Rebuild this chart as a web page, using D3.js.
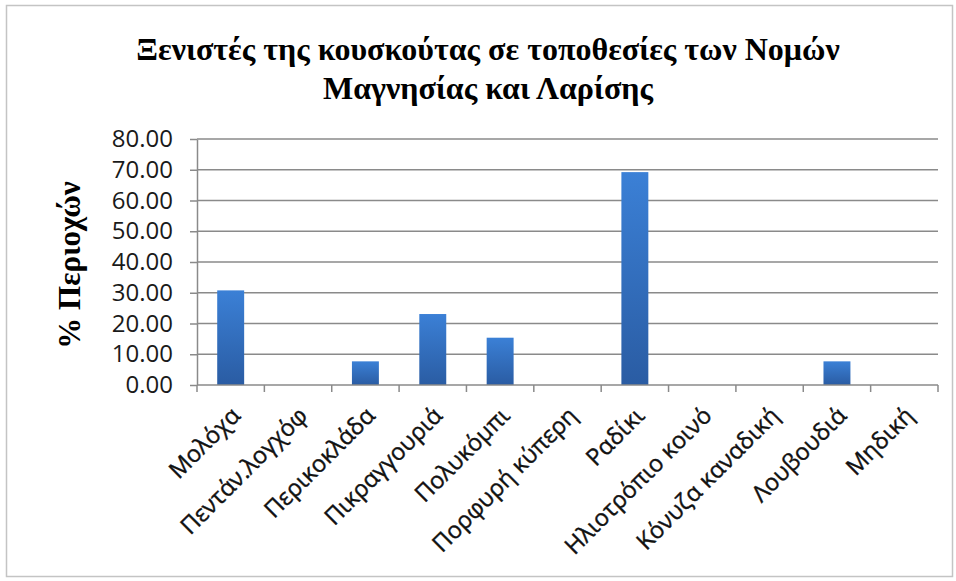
<!DOCTYPE html>
<html>
<head>
<meta charset="utf-8">
<script src="https://cdn.jsdelivr.net/npm/d3@7"></script>
<style>
  body { margin: 0; background: #fff; }
  svg { display: block; }
</style>
</head>
<body>
<svg width="956" height="581"></svg>
<script>
const categories = ['Μολόχα', 'Πεντάν.λογχόφ', 'Περικοκλάδα', 'Πικραγγουριά', 'Πολυκόμπι',
  'Πορφυρή κύπερη', 'Ραδίκι', 'Ηλιοτρόπιο κοινό', 'Κόνυζα καναδική', 'Λουβουδιά', 'Μηδική'];
const values = [30.77, 0, 7.69, 23.08, 15.38, 0, 69.23, 0, 0, 7.69, 0];
const yTicks = [0, 10, 20, 30, 40, 50, 60, 70, 80];
const titleLines = ['Ξενιστές της κουσκούτας σε τοποθεσίες των Νομών', 'Μαγνησίας και Λαρίσης'];
const yTitle = '% Περιοχών';

const svg = d3.select('svg');
const margin = { top: 139, right: 18, bottom: 196, left: 197 };
const width = 956 - margin.left - margin.right;
const height = 581 - margin.top - margin.bottom;

// bar gradient
const grad = svg.append('defs').append('linearGradient')
  .attr('id', 'barGrad').attr('x1', 0).attr('y1', 0).attr('x2', 0).attr('y2', 1);
grad.append('stop').attr('offset', '0%').attr('stop-color', '#3b80d6');
grad.append('stop').attr('offset', '100%').attr('stop-color', '#2a5ca3');

// frame
svg.append('rect')
  .attr('x', 6.5).attr('y', 5.5).attr('width', 946).attr('height', 571)
  .attr('fill', 'none').attr('stroke', '#c4c4c4').attr('stroke-width', 1.5);

// title
svg.append('text')
  .attr('x', 488).attr('y', 60)
  .attr('text-anchor', 'middle')
  .style('font-family', '"Liberation Serif", "Times New Roman", serif')
  .style('font-weight', 'bold').style('font-size', '32px')
  .selectAll('tspan').data(titleLines).join('tspan')
  .attr('x', 488).attr('dy', (d, i) => i ? 39 : 0)
  .text(d => d);

const g = svg.append('g').attr('transform', `translate(${margin.left},${margin.top})`);

const x = d3.scaleBand().domain(categories).range([0, width]).paddingInner(0).paddingOuter(0);
const y = d3.scaleLinear().domain([0, 80]).range([height, 0]);

// gridlines
g.append('g').selectAll('line').data(yTicks.filter(d => d > 0)).join('line')
  .attr('x1', 0).attr('x2', width)
  .attr('y1', d => y(d)).attr('y2', d => y(d))
  .attr('stroke', '#8a8a8a').attr('stroke-width', 1.5);

// bars
const barW = x.bandwidth() * 0.4;
g.append('g').selectAll('rect').data(values).join('rect')
  .attr('x', (d, i) => x(categories[i]) + (x.bandwidth() - barW) / 2)
  .attr('y', d => y(d))
  .attr('width', barW)
  .attr('height', d => y(0) - y(d))
  .attr('fill', 'url(#barGrad)');

// y axis
const yAxis = g.append('g')
  .call(d3.axisLeft(y).tickValues(yTicks).tickFormat(d3.format('.2f')).tickSize(7).tickSizeOuter(0));
yAxis.select('.domain').attr('stroke', '#8a8a8a').attr('stroke-width', 1.5);
yAxis.selectAll('.tick line').attr('stroke', '#8a8a8a').attr('stroke-width', 1.5);
yAxis.selectAll('.tick text')
  .attr('x', -24)
  .style('font-family', '"Open Sans", "Liberation Sans", sans-serif')
  .style('font-size', '24px').attr('fill', '#1a1a1a');

// x axis
const xTickPos = d3.range(categories.length + 1).map(i => i * x.step());
const xAxisG = g.append('g').attr('transform', `translate(0,${height})`);
xAxisG.append('line').attr('x1', 0).attr('x2', width)
  .attr('stroke', '#8a8a8a').attr('stroke-width', 1.5);
xAxisG.selectAll('line.tk').data(xTickPos).join('line').attr('class', 'tk')
  .attr('x1', d => d).attr('x2', d => d).attr('y1', 0).attr('y2', 7)
  .attr('stroke', '#8a8a8a').attr('stroke-width', 1.5);
xAxisG.selectAll('text').data(categories).join('text')
  .attr('transform', d => `translate(${x(d) + x.bandwidth() / 2 + 11},${32}) rotate(-45)`)
  .attr('text-anchor', 'end')
  .style('font-family', '"Open Sans", "Liberation Sans", sans-serif')
  .style('font-size', '23.5px').attr('fill', '#111')
  .attr('stroke', '#111').attr('stroke-width', 0.4)
  .text(d => d);

// y title
svg.append('text')
  .attr('transform', 'translate(80,265) rotate(-90)')
  .attr('text-anchor', 'middle')
  .style('font-family', '"Liberation Serif", "Times New Roman", serif')
  .style('font-weight', 'bold').style('font-size', '31px')
  .text(yTitle);
</script>
</body>
</html>
